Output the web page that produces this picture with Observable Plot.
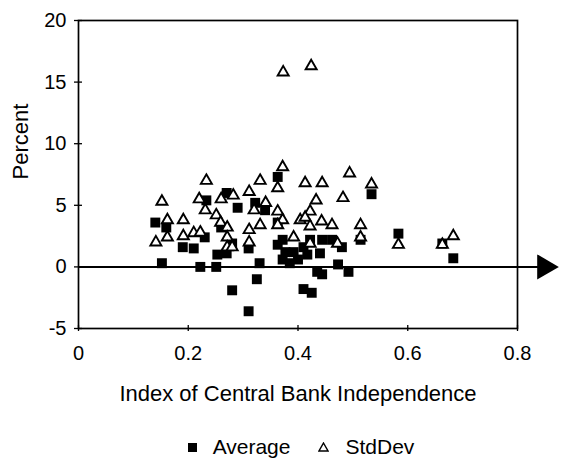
<!DOCTYPE html>
<html>
<head>
<meta charset="utf-8">
<script src="https://cdn.jsdelivr.net/npm/d3@7"></script>
<script src="https://cdn.jsdelivr.net/npm/@observablehq/plot@0.6"></script>
<style>
  html, body { margin: 0; padding: 0; background: white; }
  body { width: 562px; height: 465px; overflow: hidden; font-family: "Liberation Sans", Arial, sans-serif; }
  #legend { display: flex; justify-content: center; align-items: center; font-size: 21px; color: black; height: 40px; margin-top: 2px; padding-left: 40px; }
  #legend .item { display: flex; align-items: center; }
  #legend .item + .item { margin-left: 28px; }
  #legend .sw { margin-right: 16px; }
</style>
</head>
<body>
<div id="chart"></div>
<div id="legend"></div>
<script>
// Average (filled squares): x = index, y = percent
const avgX = [0.140, 0.160, 0.152, 0.190, 0.210, 0.230, 0.222, 0.251, 0.270, 0.290, 0.260, 0.253, 0.270, 0.280, 0.280, 0.310, 0.322, 0.325, 0.330, 0.233, 0.310, 0.340, 0.363, 0.363, 0.372, 0.363, 0.377, 0.372, 0.392, 0.400, 0.410, 0.422, 0.444, 0.462, 0.480, 0.417, 0.440, 0.435, 0.444, 0.473, 0.492, 0.410, 0.425, 0.514, 0.534, 0.583, 0.663, 0.683, 0.385];
const avgY = [3.6, 3.2, 0.3, 1.6, 1.5, 2.4, 0.0, 0.0, 6.0, 4.8, 3.2, 1.0, 1.1, 1.9, -1.9, -3.6, 5.2, -1.0, 0.3, 5.4, 1.5, 4.6, 7.3, 3.6, 2.2, 1.8, 1.2, 0.6, 1.2, 0.6, 1.6, 2.2, 2.2, 2.2, 1.6, 1.0, 1.1, -0.4, -0.6, 0.2, -0.4, -1.8, -2.1, 2.2, 5.9, 2.7, 1.9, 0.7, 0.3];
// StdDev (open triangles)
const stdX = [0.152, 0.141, 0.162, 0.162, 0.233, 0.220, 0.231, 0.191, 0.191, 0.210, 0.222, 0.260, 0.282, 0.251, 0.259, 0.271, 0.271, 0.271, 0.280, 0.311, 0.331, 0.320, 0.311, 0.311, 0.372, 0.363, 0.341, 0.331, 0.363, 0.372, 0.363, 0.413, 0.444, 0.494, 0.534, 0.433, 0.482, 0.422, 0.404, 0.413, 0.422, 0.443, 0.462, 0.514, 0.514, 0.392, 0.422, 0.472, 0.583, 0.663, 0.683, 0.373, 0.424];
const stdY = [5.3, 2.0, 3.8, 2.4, 7.0, 5.5, 4.6, 3.8, 2.5, 2.75, 2.8, 5.5, 5.8, 4.2, 3.6, 3.2, 2.4, 1.6, 1.6, 6.1, 7.0, 4.6, 3.0, 2.0, 8.1, 6.4, 5.2, 3.4, 4.5, 3.8, 3.4, 6.8, 6.8, 7.6, 6.7, 5.4, 5.6, 4.5, 3.8, 4.0, 3.3, 3.7, 3.4, 3.4, 2.4, 2.4, 1.9, 1.9, 1.8, 1.8, 2.5, 15.8, 16.3];

const xTicks = [0, 0.2, 0.4, 0.6, 0.8];
const yTicks = [-5, 0, 5, 10, 15, 20];
const seriesNames = ["Average", "StdDev"];
const xLabel = "Index of Central Bank Independence";
const yLabel = "Percent";
const axisArrowEnd = [0.849];

const avg = avgX.map((x, i) => ({x, y: avgY[i]}));
const std = stdX.map((x, i) => ({x, y: stdY[i]}));

const font = "'Liberation Sans', Arial, sans-serif";

const chart = Plot.plot({
  width: 562,
  height: 425,
  marginLeft: 78,
  marginRight: 45,
  marginTop: 20,
  marginBottom: 97,
  x: {domain: [0, 0.8]},
  y: {domain: [-5, 20]},
  style: {fontFamily: font, fontSize: "20px", color: "black", background: "white"},
  marks: [
    Plot.frame({stroke: "black", strokeWidth: 1.7}),
    Plot.axisX(xTicks, {tickSize: 6, dy: -3, text: null, label: null, strokeWidth: 1.3}),
    Plot.axisX(xTicks, {tickSize: 0, tickPadding: 17, tickFormat: d => String(d), label: null, fontSize: 20, letterSpacing: "1.5px"}),
    Plot.axisY(yTicks, {tickSize: 8, dx: 4, text: null, label: null, strokeWidth: 1.3}),
    Plot.axisY(yTicks, {tickSize: 0, tickPadding: 12, tickFormat: d => String(d), label: null, fontSize: 20, letterSpacing: "1.5px"}),
    Plot.ruleY([0], {x1: 0, x2: axisArrowEnd[0], stroke: "black", strokeWidth: 2}),
    Plot.dot(axisArrowEnd, {x: d => d, y: () => 0, symbol: "triangle", rotate: 90, r: 9.3, fill: "black", stroke: "none"}),
    Plot.dot(avg, {x: "x", y: "y", symbol: "square", r: 5.6, fill: "black", stroke: "none"}),
    Plot.dot(std, {x: "x", y: "y", symbol: "triangle", r: 4.1, fill: "white", stroke: "black", strokeWidth: 1.9}),
    Plot.text([yLabel], {frameAnchor: "left", textAnchor: "middle", lineAnchor: "middle", rotate: -90, dx: -58, dy: -33, fontSize: 22}),
    Plot.text([xLabel], {frameAnchor: "bottom", dy: 72, fontSize: 22})
  ]
});
document.getElementById("chart").appendChild(chart);

// Legend
const legend = document.getElementById("legend");
const swatches = [
  '<svg class="sw" width="9" height="9"><rect x="0" y="0" width="9" height="9" fill="black"/></svg>',
  '<svg class="sw" width="11" height="10"><path d="M5.5,1 L10,9 L1,9 Z" fill="white" stroke="black" stroke-width="1.4"/></svg>'
];
seriesNames.forEach((name, i) => {
  const item = document.createElement("div");
  item.className = "item";
  item.innerHTML = swatches[i] + "<span>" + name + "</span>";
  legend.appendChild(item);
});
</script>
</body>
</html>
